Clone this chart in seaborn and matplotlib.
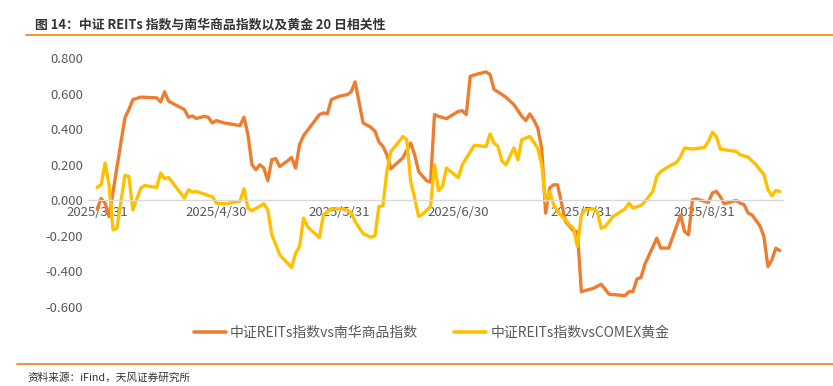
import pandas as pd
import matplotlib.pyplot as plt
import seaborn as sns
from matplotlib.lines import Line2D

# 中证REITs指数 vs 南华商品指数 (20日相关性)
nh_dates = ['03-31', '04-01', '04-02', '04-03', '04-07', '04-08', '04-09', '04-11', '04-15', '04-16',
            '04-17', '04-18', '04-22', '04-23', '04-24', '04-25', '04-27', '04-28', '04-29', '04-30',
            '05-02', '05-06', '05-07', '05-08', '05-09', '05-10', '05-11', '05-12', '05-13', '05-14',
            '05-15', '05-16', '05-18', '05-19', '05-20', '05-21', '05-22', '05-26', '05-27', '05-28',
            '05-29', '05-31', '06-02', '06-03', '06-04', '06-05', '06-06', '06-08', '06-09', '06-10',
            '06-11', '06-12', '06-13', '06-16', '06-18', '06-19', '06-20', '06-22', '06-23', '06-24',
            '06-25', '06-27', '06-30', '07-01', '07-02', '07-03', '07-05', '07-07', '07-08', '07-09',
            '07-10', '07-12', '07-14', '07-16', '07-17', '07-18', '07-19', '07-20', '07-21', '07-22',
            '07-23', '07-24', '07-25', '07-27', '07-29', '07-30', '07-31', '08-03', '08-05', '08-07',
            '08-11', '08-12', '08-13', '08-14', '08-15', '08-16', '08-19', '08-20', '08-22', '08-25',
            '08-26', '08-27', '08-28', '08-29', '09-01', '09-02', '09-03', '09-04', '09-05', '09-08',
            '09-09', '09-10', '09-11', '09-12', '09-14', '09-15', '09-16', '09-17', '09-18', '09-19']
nh_corr = [-0.05, 0.01, -0.015, -0.09, 0.463, 0.51, 0.566, 0.58, 0.576, 0.553,
           0.61, 0.557, 0.51, 0.467, 0.474, 0.46, 0.472, 0.467, 0.435, 0.448,
           0.435, 0.42, 0.467, 0.369, 0.2, 0.172, 0.2, 0.181, 0.11, 0.228,
           0.234, 0.19, 0.222, 0.241, 0.181, 0.313, 0.363, 0.482, 0.491, 0.486,
           0.566, 0.585, 0.594, 0.61, 0.666, 0.55, 0.435, 0.41, 0.388, 0.328,
           0.303, 0.256, 0.177, 0.238, 0.322, 0.256, 0.162, 0.11, 0.102, 0.482,
           0.472, 0.459, 0.5, 0.504, 0.482, 0.697, 0.711, 0.722, 0.707, 0.623,
           0.61, 0.579, 0.538, 0.472, 0.448, 0.486, 0.453, 0.407, 0.294, -0.072,
           0.069, 0.087, 0.087, -0.119, -0.172, -0.176, -0.514, -0.495, -0.472, -0.528,
           -0.536, -0.514, -0.514, -0.442, -0.435, -0.36, -0.213, -0.269, -0.269, -0.082,
           -0.176, -0.194, 0.003, 0.007, -0.012, 0.041, 0.05, 0.021, -0.02, -0.001,
           -0.016, -0.025, -0.072, -0.082, -0.144, -0.204, -0.373, -0.335, -0.269, -0.283]

# 中证REITs指数 vs COMEX黄金 (20日相关性)
gold_dates = ['03-31', '04-01', '04-02', '04-03', '04-04', '04-05', '04-06', '04-07', '04-08', '04-09',
              '04-11', '04-12', '04-15', '04-16', '04-17', '04-18', '04-22', '04-23', '04-24', '04-25',
              '04-28', '04-29', '04-30', '05-02', '05-06', '05-07', '05-08', '05-09', '05-12', '05-13',
              '05-14', '05-15', '05-16', '05-18', '05-19', '05-20', '05-21', '05-22', '05-23', '05-24',
              '05-26', '05-27', '05-29', '06-01', '06-02', '06-03', '06-04', '06-06', '06-08', '06-09',
              '06-10', '06-11', '06-12', '06-13', '06-15', '06-16', '06-17', '06-18', '06-19', '06-20',
              '06-21', '06-23', '06-24', '06-25', '06-26', '06-27', '06-30', '07-01', '07-04', '07-07',
              '07-08', '07-09', '07-10', '07-11', '07-12', '07-14', '07-15', '07-16', '07-18', '07-20',
              '07-21', '07-22', '07-23', '07-24', '07-25', '07-27', '07-28', '07-29', '07-30', '07-31',
              '08-01', '08-03', '08-04', '08-05', '08-06', '08-08', '08-10', '08-11', '08-12', '08-13',
              '08-15', '08-16', '08-18', '08-19', '08-20', '08-22', '08-24', '08-25', '08-26', '08-28',
              '08-31', '09-01', '09-02', '09-03', '09-04', '09-06', '09-08', '09-09', '09-11', '09-13',
              '09-15', '09-16', '09-17', '09-18', '09-19']
gold_corr = [0.072, 0.087, 0.21, 0.087, -0.166, -0.157, -0.007, 0.14, 0.134, -0.054,
             0.069, 0.083, 0.072, 0.153, 0.121, 0.128, 0.012, 0.059, 0.046, 0.05,
             0.027, 0.021, -0.016, -0.021, -0.005, 0.065, -0.044, -0.059, -0.02, -0.054,
             -0.194, -0.247, -0.307, -0.354, -0.378, -0.298, -0.26, -0.1, -0.148, -0.17,
             -0.209, -0.082, -0.048, -0.048, -0.055, -0.07, -0.119, -0.187, -0.208, -0.2,
             -0.035, -0.031, 0.162, 0.275, 0.328, 0.359, 0.341, 0.106, 0.012, -0.091,
             -0.078, -0.035, 0.2, 0.054, 0.078, 0.181, 0.128, 0.2, 0.309, 0.303,
             0.373, 0.322, 0.303, 0.219, 0.2, 0.294, 0.228, 0.341, 0.359, 0.294,
             0.2, -0.007, 0.05, -0.025, -0.063, -0.11, -0.138, -0.157, -0.26, -0.082,
             -0.054, -0.048, -0.063, -0.157, -0.148, -0.091, -0.063, -0.048, -0.016, -0.044,
             -0.03, -0.007, 0.05, 0.134, 0.162, 0.19, 0.213, 0.247, 0.294, 0.288,
             0.297, 0.331, 0.382, 0.359, 0.288, 0.281, 0.275, 0.256, 0.243, 0.2,
             0.144, 0.059, 0.025, 0.055, 0.05]

series_names = ['中证REITs指数vs南华商品指数', '中证REITs指数vsCOMEX黄金']
series_colors = ['#ED7D31', '#FFC000']

tick_dates = ['2025-03-31', '2025-04-30', '2025-05-31', '2025-06-30', '2025-07-31', '2025-08-31']
tick_labels = ['2025/3/31', '2025/4/30', '2025/5/31', '2025/6/30', '2025/7/31', '2025/8/31']
y_ticks = [-0.6, -0.4, -0.2, 0.0, 0.2, 0.4, 0.6, 0.8]

df = pd.concat([
    pd.DataFrame({'date': pd.to_datetime(['2025-' + d for d in nh_dates]), 'corr': nh_corr, 'series': series_names[0]}),
    pd.DataFrame({'date': pd.to_datetime(['2025-' + d for d in gold_dates]), 'corr': gold_corr, 'series': series_names[1]}),
])

sns.set_theme(style='white')
plt.rcParams['font.family'] = ['Noto Sans CJK SC', 'DejaVu Sans']
plt.rcParams['axes.unicode_minus'] = False

fig = plt.figure(figsize=(8.33, 3.86), dpi=100)
ax = fig.add_axes([88 / 833, 1 - 307 / 386, 695 / 833, 249 / 386])

sns.lineplot(data=df, x='date', y='corr', hue='series', palette=dict(zip(series_names, series_colors)),
             estimator=None, linewidth=2.4, legend=False, ax=ax)

start = pd.Timestamp('2025-03-31')
ax.set_xlim(start - pd.Timedelta(days=2.3), start + pd.Timedelta(days=172.8))
ax.set_ylim(-0.6, 0.8)
ax.set_yticks(y_ticks)
ax.set_yticklabels([f'{v:.3f}' for v in y_ticks])
ax.set_xticks(pd.to_datetime(tick_dates))
ax.set_xticklabels(tick_labels)
ax.set_xlabel('')
ax.set_ylabel('')

for s in ['top', 'right', 'left']:
    ax.spines[s].set_visible(False)
ax.spines['bottom'].set_position(('data', 0))
ax.spines['bottom'].set_color('#D9D9D9')
ax.spines['bottom'].set_linewidth(1.0)
ax.tick_params(axis='both', length=0, labelsize=9.5, labelcolor='#595959')
ax.tick_params(axis='x', pad=4)
ax.tick_params(axis='y', pad=3.5)

# 图例
handles = [Line2D([], [], color=c, lw=2.6) for c in series_colors]
fig.legend(handles, series_names, loc='center', bbox_to_anchor=(431.5 / 833, 1 - 333 / 386),
           ncol=2, frameon=False, fontsize=10, labelcolor='#595959',
           handlelength=2.3, handletextpad=0.3, columnspacing=2.6, borderpad=0)

# 标题与分隔线
fig.text(35 / 833, 1 - 24 / 386, '图 14：中证 REITs 指数与南华商品指数以及黄金 20 日相关性',
         fontsize=9.3, fontweight='bold', color='#333333', va='center', ha='left')
fig.add_artist(Line2D([26 / 833, 1], [1 - 35 / 386] * 2, color='#F08A24', lw=1.3))
fig.add_artist(Line2D([17 / 833, 1], [1 - 364 / 386] * 2, color='#F08A24', lw=1.3))
fig.text(27 / 833, 1 - 378 / 386, '资料来源：iFind，天风证券研究所', fontsize=7.7, color='#333333',
         va='center', ha='left')

fig.savefig('out.png', dpi=100)
